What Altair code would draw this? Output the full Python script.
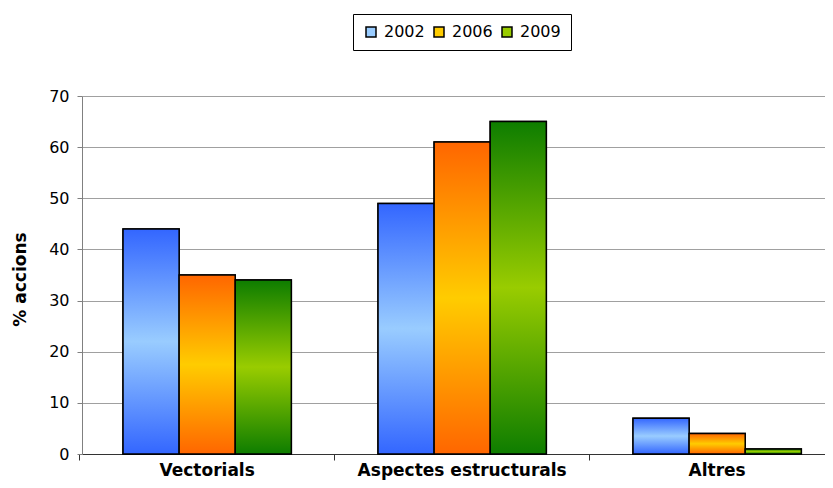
import altair as alt
import pandas as pd

categories = ["Vectorials", "Aspectes estructurals", "Altres"]
years = ["2002", "2006", "2009"]
v2002 = [44, 49, 7]
v2006 = [35, 61, 4]
v2009 = [34, 65, 1]

rows = []
for i, c in enumerate(categories):
    for yr, vals in zip(years, [v2002, v2006, v2009]):
        rows.append({"cat": c, "year": yr, "value": vals[i]})
df = pd.DataFrame(rows)

FONT = "DejaVu Sans"
edge = {"2002": "#3366FF", "2006": "#FF6600", "2009": "#0E7D00"}
mid = {"2002": "#99CCFF", "2006": "#FFCC00", "2009": "#99CC00"}
legend_colors = ["#99CCFF", "#FFCC00", "#99CC00"]


def grad(yr):
    return {
        "gradient": "linear", "x1": 0, "y1": 0, "x2": 0, "y2": 1,
        "stops": [
            {"offset": 0, "color": edge[yr]},
            {"offset": 0.5, "color": mid[yr]},
            {"offset": 1, "color": edge[yr]},
        ],
    }


x_scale = alt.Scale(paddingInner=0.34, paddingOuter=0.1269, align=0.634)

# axis carrying the category labels (no ticks / domain)
x_labels = alt.X(
    "cat:N", sort=categories, scale=x_scale,
    axis=alt.Axis(
        orient="bottom", title=None, labelAngle=0, labelFont=FONT, labelLimit=0,
        labelFontSize=17, labelFontWeight="bold", labelColor="black",
        ticks=False, domain=False, labelPadding=21, grid=False,
        labelBaseline="alphabetic",
    ),
)
# axis carrying the separator ticks between categories
x_ticks = alt.X(
    "cat:N", sort=categories, scale=x_scale,
    axis=alt.Axis(
        orient="bottom", title=None, labels=False, bandPosition=-0.259, tickSize=6,
        tickColor="#333333", domainColor="#333333", grid=False,
    ),
)
x_plain = alt.X("cat:N", sort=categories, scale=x_scale, axis=None)

y_enc = alt.Y(
    "value:Q",
    scale=alt.Scale(domain=[0, 70], nice=False),
    axis=alt.Axis(
        values=list(range(0, 71, 10)), title="% accions",
        titleFont=FONT, titleFontSize=17, titleFontWeight="bold", titleColor="black",
        titleX=-62, titleY=183, titleAngle=270, titleAlign="center", titleBaseline="middle",
        labelFont=FONT, labelFontSize=16, labelColor="black", labelPadding=8,
        tickSize=5, tickColor="#808080", domainColor="#808080",
        gridColor="#A0A0A0", gridWidth=1,
    ),
)
xo = alt.XOffset("year:N", sort=years,
                 scale=alt.Scale(domain=years, paddingInner=0, paddingOuter=0))

base = alt.Chart(df)

legend_layer = base.mark_bar(stroke="black", strokeWidth=1.5).encode(
    x=x_labels, y=y_enc, xOffset=xo,
    color=alt.Color(
        "year:N",
        scale=alt.Scale(domain=years, range=legend_colors),
        legend=alt.Legend(
            title=None, orient="none", legendX=271, legendY=-82,
            direction="horizontal", strokeColor="black", padding=10,
            labelFont=FONT, labelFontSize=16, labelColor="black",
            symbolType="square", symbolSize=100, symbolStrokeColor="black",
            symbolStrokeWidth=1.5, labelOffset=5, columnPadding=6,
            fillColor="white",
        ),
    ),
)

layers = [legend_layer]
for k, yr in enumerate(years):
    layers.append(
        base.transform_filter(alt.datum.year == yr)
        .mark_bar(fill=grad(yr), stroke="black", strokeWidth=1.5)
        .encode(x=x_ticks if k == 0 else x_plain, y=y_enc, xOffset=xo)
    )

chart = (
    alt.layer(*layers)
    .resolve_axis(x="independent")
    .properties(
        width=743, height=358,
        autosize=alt.AutoSizeParams(type="none"),
        padding={"left": 74, "top": 88, "right": 0, "bottom": 26},
        background="white",
    )
    .configure_view(stroke=None)
)

chart.save("out.html", embed_options={"renderer": "svg", "actions": False})
